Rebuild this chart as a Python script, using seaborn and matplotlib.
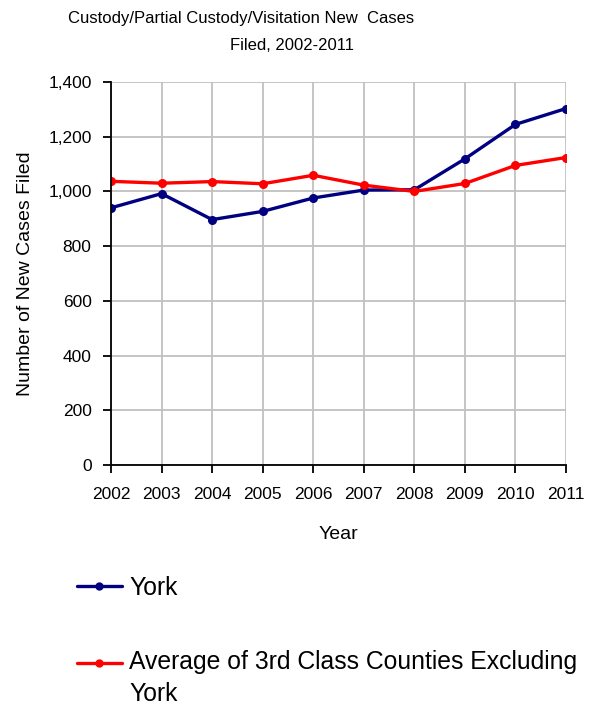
import numpy as np
import pandas as pd
import seaborn as sns
import matplotlib.pyplot as plt
from matplotlib.legend_handler import HandlerLine2D
from matplotlib.transforms import Affine2D

# values
years = [2002, 2003, 2004, 2005, 2006, 2007, 2008, 2009, 2010, 2011]
york = [940, 992, 897, 927, 976, 1005, 1006, 1119, 1245, 1303]
third_class_avg = [1037, 1030, 1036, 1028, 1059, 1023, 1000, 1029, 1095, 1124]
series_names = ['York', 'Average of 3rd Class Counties Excluding\nYork']
y_ticks = [0, 200, 400, 600, 800, 1000, 1200, 1400]

df = pd.DataFrame({
    'Year': years * 2,
    'Cases': york + third_class_avg,
    'Series': [series_names[0]] * len(years) + [series_names[1]] * len(years),
})


class FirstLineHandler(HandlerLine2D):
    # put the legend key beside the first line of a two-line label
    def __init__(self, shift, **kw):
        super().__init__(**kw)
        self.shift = shift

    def create_artists(self, legend, orig_handle, xdescent, ydescent,
                       width, height, fontsize, trans):
        trans = Affine2D().translate(0, self.shift) + trans
        return super().create_artists(legend, orig_handle, xdescent, ydescent,
                                      width, height, fontsize, trans)


sns.set_style('white')
plt.rcParams['font.family'] = ['Liberation Sans', 'DejaVu Sans']
plt.rcParams['text.color'] = 'black'
plt.rcParams['axes.labelcolor'] = 'black'
plt.rcParams['xtick.color'] = 'black'
plt.rcParams['ytick.color'] = 'black'

fig = plt.figure(figsize=(6.04, 7.08), dpi=100)
ax = fig.add_axes([111 / 604, 1 - 465 / 708, 455 / 604, 383 / 708])

sns.lineplot(data=df, x='Year', y='Cases', hue='Series',
             palette=['#000080', '#FF0000'], marker='o', markersize=6.5,
             markeredgewidth=0, linewidth=2.4, ax=ax, legend=True)

ax.set_xlim(2002, 2011)
ax.set_ylim(0, 1400)
ax.set_xticks(years)
ax.set_yticks(y_ticks)
ax.set_yticklabels([f'{v:,}' for v in y_ticks])
ax.grid(True, color='#C0C0C0', linewidth=1.3)
ax.set_axisbelow(True)
for side in ['top', 'right']:
    ax.spines[side].set_visible(False)
for side in ['left', 'bottom']:
    ax.spines[side].set_color('black')
    ax.spines[side].set_linewidth(1.3)
ax.tick_params(axis='both', direction='out', length=6, width=1.3,
               color='black', labelsize=12.5, left=True, bottom=True)
ax.tick_params(axis='x', pad=10)
ax.tick_params(axis='y', pad=8)
ax.set_xlabel('Year', fontsize=14, labelpad=17)
ax.set_ylabel('Number of New Cases Filed', fontsize=14, labelpad=10.5)

fig.text(241 / 604, 1 - 18 / 708, 'Custody/Partial Custody/Visitation New  Cases',
         ha='center', va='center', fontsize=12)
fig.text(292 / 604, 1 - 45 / 708, 'Filed, 2002-2011',
         ha='center', va='center', fontsize=12)

handles, labels = ax.get_legend_handles_labels()
ax.legend_.remove()
leg = fig.legend(handles, labels, loc='upper left',
                 bbox_to_anchor=(77 / 604, 1 - 576 / 708), frameon=False,
                 borderpad=0, borderaxespad=0, fontsize=17.8,
                 handlelength=1.8, handletextpad=0.32, labelspacing=2.02,
                 handler_map={handles[1]: FirstLineHandler(shift=11.5)})
for t in leg.get_texts():
    t.set_linespacing(1.45)
for h in leg.legend_handles:
    h.set_markersize(6)

fig.savefig('out.png', dpi=100)
